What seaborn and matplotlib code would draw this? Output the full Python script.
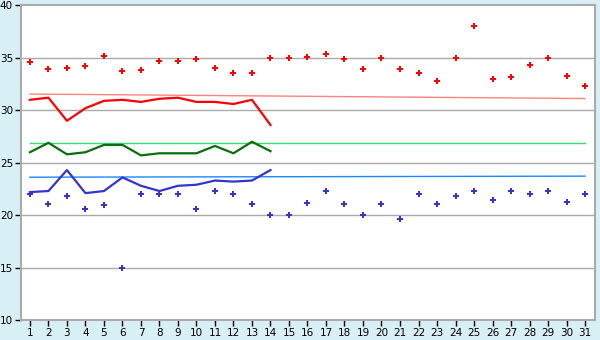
import matplotlib
matplotlib.use("Agg")
import matplotlib.pyplot as plt
import seaborn as sns
import pandas as pd
import numpy as np

days = list(range(1, 32))
max_temp = [34.6, 33.9, 34.0, 34.2, 35.2, 33.7, 33.8, 34.7, 34.7, 34.9, 34.0, 33.6, 33.6, 35.0,
            35.0, 35.1, 35.4, 34.9, 33.9, 35.0, 33.9, 33.6, 32.8, 35.0, 38.0, 33.0, 33.2, 34.3,
            35.0, 33.3, 32.3]
min_temp = [22.0, 21.1, 21.8, 20.6, 21.0, 15.0, 22.0, 22.0, 22.0, 20.6, 22.3, 22.0, 21.1, 20.0,
            20.0, 21.2, 22.3, 21.1, 20.0, 21.1, 19.6, 22.0, 21.1, 21.8, 22.3, 21.4, 22.3, 22.0,
            22.3, 21.3, 22.0]
line_days = list(range(1, 15))
avg_max = [31.0, 31.2, 29.0, 30.2, 30.9, 31.0, 30.8, 31.1, 31.2, 30.8, 30.8, 30.6, 31.0, 28.6]
avg_mean = [26.0, 26.9, 25.8, 26.0, 26.7, 26.7, 25.7, 25.9, 25.9, 25.9, 26.6, 25.9, 27.0, 26.1]
avg_min = [22.2, 22.3, 24.3, 22.1, 22.3, 23.6, 22.8, 22.3, 22.8, 22.9, 23.3, 23.2, 23.3, 24.3]
norm_days = [1, 31]
norm_max = [31.55, 31.12]
norm_mean = [26.84, 26.84]
norm_min = [23.62, 23.72]
yticks = [10, 15, 20, 25, 30, 35, 40]

bg = "#d8eff6"
fig = plt.figure(figsize=(6, 3.4), dpi=100, facecolor=bg)
ax = fig.add_axes([0.0345, 0.0588, 0.992 - 0.0345, 0.984 - 0.0588])
ax.set_facecolor("white")

df_pts = pd.DataFrame({"day": days, "max": max_temp, "min": min_temp})
df_line = pd.DataFrame({"day": line_days, "amax": avg_max, "amean": avg_mean, "amin": avg_min})
df_norm = pd.DataFrame({"day": norm_days, "nmax": norm_max, "nmean": norm_mean, "nmin": norm_min})

for y in yticks[1:-1]:
    ax.axhline(y, color="#aaaaaa", lw=1.0, zorder=0)

sns.lineplot(data=df_norm, x="day", y="nmax", ax=ax, color="#ff8080", lw=1.0)
sns.lineplot(data=df_norm, x="day", y="nmean", ax=ax, color="#33dd77", lw=1.0)
sns.lineplot(data=df_norm, x="day", y="nmin", ax=ax, color="#1a88ff", lw=1.0)

sns.lineplot(data=df_line, x="day", y="amax", ax=ax, color="#ff0000", lw=1.6)
sns.lineplot(data=df_line, x="day", y="amean", ax=ax, color="#0a6e0a", lw=1.6)
sns.lineplot(data=df_line, x="day", y="amin", ax=ax, color="#3535cc", lw=1.6)

sns.scatterplot(data=df_pts, x="day", y="max", ax=ax, color="#ff0000", marker="P", s=25,
                linewidth=0, zorder=5)
sns.scatterplot(data=df_pts, x="day", y="min", ax=ax, color="#3535cc", marker="P", s=21,
                linewidth=0, zorder=5)

ax.set_xlim(0.5, 31.55)
ax.set_ylim(10, 40)
ax.set_xticks(days)
ax.set_xticklabels([str(d) for d in days])
ax.set_yticks(yticks)
ax.set_xlabel("")
ax.set_ylabel("")
ax.tick_params(axis="both", labelsize=7.5, length=4, width=1, color="black", pad=1.5,
               labelcolor="black")
for s in ax.spines.values():
    s.set_color("#aaaaaa")
    s.set_linewidth(1.5)

fig.savefig("out.png", dpi=100, facecolor=bg)
